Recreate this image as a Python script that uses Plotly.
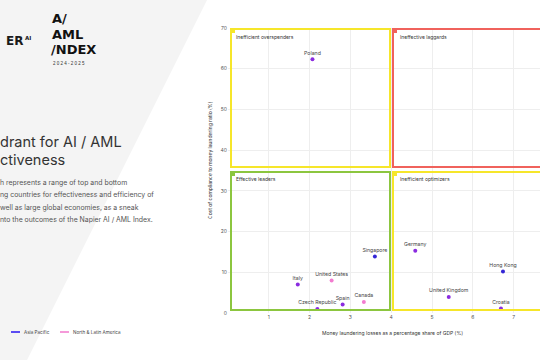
import plotly.graph_objects as go

# ---------------- data ----------------
countries = ["Poland", "Italy", "United States", "Czech Republic", "Spain", "Canada",
             "Singapore", "Germany", "United Kingdom", "Hong Kong", "Croatia"]
ml_losses = [2.07, 1.71, 2.54, 2.19, 2.81, 3.33, 3.60, 4.59, 5.41, 6.74, 6.69]
compliance_ratio = [62.3, 7.0, 8.0, 1.0, 2.1, 2.7, 13.9, 15.3, 3.9, 10.2, 1.1]
regions = ["Europe", "Europe", "North & Latin America", "Europe", "Europe",
           "North & Latin America", "Asia Pacific", "Europe", "Europe",
           "Asia Pacific", "Europe"]
region_colors = {"Europe": "#8a2be0", "Asia Pacific": "#3426d6",
                 "North & Latin America": "#f27ccf"}
legend_items = ["Asia Pacific", "North & Latin America"]
legend_colors = {"Asia Pacific": "#5b4cf2", "North & Latin America": "#f59ad9"}

quadrant_names = ["Inefficient overspenders", "Ineffective laggards",
                  "Effective leaders", "Inefficient optimizers"]
x_ticks = [1, 2, 3, 4, 5, 6, 7]
y_ticks = [0, 10, 20, 30, 40, 50, 60, 70]
x_title = "Money laundering losses as a percentage share of GDP (%)"
y_title = "Cost of compliance to money laundering ratio (%)"

YELLOW = "#f6e62a"
RED = "#f0625c"
GREEN = "#8cc63f"

# ---------------- geometry helpers ----------------
W, H = 540, 360
L, T, B = 228, 28, 47
PW, PH = W - L, H - T - B
XMAX = 312 / 40.8


def pxx(xp):
    return (xp - L) / PW


def pxy(yp):
    return (H - B - yp) / PH


def dx(xp):
    return (xp - L) / 40.8


def dy(yp):
    return (H - B - yp) / (PH / 70)


fig = go.Figure()

for reg in ["Europe", "Asia Pacific", "North & Latin America"]:
    idx = [i for i, r in enumerate(regions) if r == reg]
    fig.add_trace(go.Scatter(
        x=[ml_losses[i] for i in idx],
        y=[compliance_ratio[i] for i in idx],
        text=[countries[i] for i in idx],
        mode="markers+text",
        textposition="top center",
        textfont=dict(size=5.2, color="#444444", family="Inter"),
        marker=dict(size=4, color=region_colors[reg]),
        name=reg, showlegend=False, cliponaxis=False,
    ))

shapes = []
# left grey diagonal background
shapes.append(dict(type="path", xref="paper", yref="paper",
                   path=f"M {pxx(0)},{pxy(0)} L {pxx(207)},{pxy(0)} L {pxx(27)},{pxy(360)} L {pxx(0)},{pxy(360)} Z",
                   fillcolor="#f4f4f4", line=dict(width=0), layer="below"))

# quadrant boxes (pixel positions converted to data)
boxes = [
    (231, 390, 29, 167, YELLOW),
    (393, 560, 29, 167, RED),
    (231, 390, 172, 310, GREEN),
    (393, 560, 172, 310, YELLOW),
]
for (x0, x1, y0, y1, c) in boxes:
    shapes.append(dict(type="rect", xref="x", yref="y", x0=dx(x0), x1=dx(x1),
                       y0=dy(y1), y1=dy(y0), line=dict(color=c, width=2),
                       fillcolor="rgba(0,0,0,0)", layer="above"))
    shapes.append(dict(type="rect", xref="x", yref="y", x0=dx(x0 - 1), x1=dx(x0 + 4),
                       y0=dy(y0 + 4), y1=dy(y0 - 1), line=dict(width=0),
                       fillcolor=c, layer="above"))

# legend line segments
leg_x = [(11, 20), (60, 69)]
for (a, b), name in zip(leg_x, legend_items):
    shapes.append(dict(type="line", xref="paper", yref="paper",
                       x0=pxx(a), x1=pxx(b), y0=pxy(332), y1=pxy(332),
                       line=dict(color=legend_colors[name], width=2)))

annotations = []


def ann(text, xp, yp, size, color="#333333", xanchor="left", yanchor="middle",
        textangle=0, family="Inter"):
    annotations.append(dict(text=text, x=pxx(xp), y=pxy(yp), xref="paper", yref="paper",
                            showarrow=False, xanchor=xanchor, yanchor=yanchor,
                            textangle=textangle, borderpad=0,
                            font=dict(size=size, color=color, family=family)))


# quadrant labels
ann(quadrant_names[0], 235, 36.7, 5)
ann(quadrant_names[1], 399, 36.7, 5)
ann(quadrant_names[2], 235, 179, 5)
ann(quadrant_names[3], 399, 179, 5)

# axis titles
ann(x_title, 392, 333, 5, xanchor="center")
ann(y_title, 210, 160, 5, xanchor="center", textangle=-90)

# left side: logos and text
ann("<b>ER</b>", 23.5, 40.5, 12, color="#1a1a1a", xanchor="right", family="DejaVu Sans")
ann("<b>AI</b>", 24, 38, 5.5, color="#1a1a1a", family="DejaVu Sans")
ann("<b>A/</b>", 51, 19, 13, color="#111111", family="DejaVu Sans")
ann("<b>AML</b>", 51, 34.3, 13, color="#111111", family="DejaVu Sans")
ann("<b>/NDEX</b>", 50, 49.6, 13, color="#111111", family="DejaVu Sans")
ann("2 0 2 4 - 2 0 2 5", 52, 63.5, 4.5, color="#333333", family="Liberation Sans")

ann("drant for AI / AML", -1, 141, 14.5, color="#333333")
ann("ctiveness", -1, 159, 14.5, color="#333333")

para = ["h represents a range of top and bottom",
        "ng countries for effectiveness and efficiency of",
        "well as large global economies, as a sneak",
        "nto the outcomes of the Napier AI / AML Index."]
for i, line in enumerate(para):
    ann(line, -1, 182.3 + i * 12.35, 6.9, color="#555555")

ann(legend_items[0], 23, 332, 4.6, color="#444444")
ann(legend_items[1], 72, 332, 4.6, color="#444444")

fig.update_layout(
    width=W, height=H,
    margin=dict(l=L, r=0, t=T, b=B, autoexpand=False),
    paper_bgcolor="white", plot_bgcolor="white",
    font=dict(family="Inter", size=5, color="#555555"),
    shapes=shapes, annotations=annotations,
    xaxis=dict(range=[0, XMAX], tickvals=x_ticks, showgrid=True,
               gridcolor="#eeeeee", gridwidth=1, zeroline=False, showline=False,
               tickfont=dict(size=5, color="#555555"), ticks=""),
    yaxis=dict(range=[0, 70], tickvals=y_ticks, showgrid=True,
               gridcolor="#eeeeee", gridwidth=1, zeroline=False, showline=False,
               tickfont=dict(size=5, color="#555555"), ticks=""),
)

fig.write_html("out.html", config={"displayModeBar": False},
               post_script="document.body.style.margin='0';document.body.style.overflow='hidden';")
